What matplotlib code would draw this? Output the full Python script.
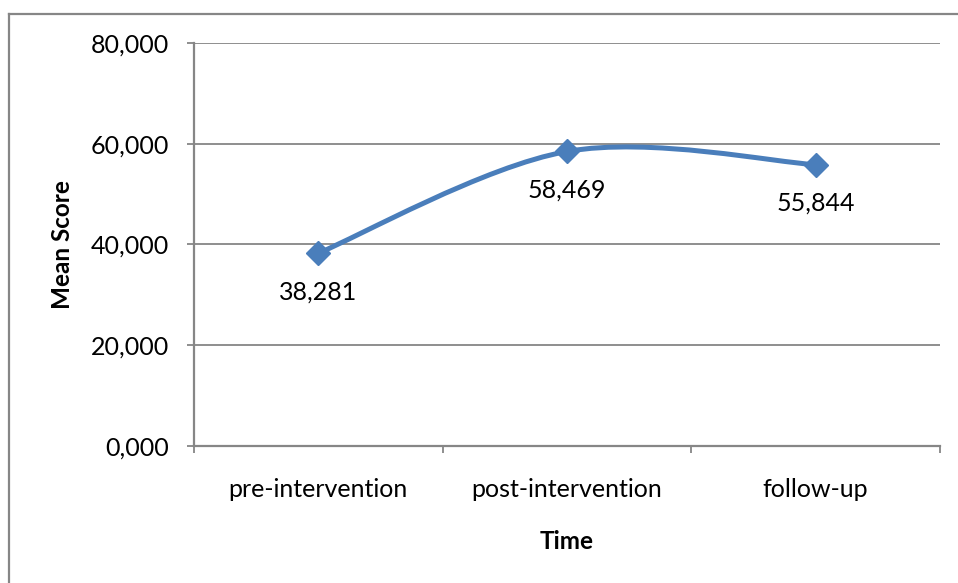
import matplotlib
matplotlib.use("Agg")
import matplotlib.pyplot as plt
from matplotlib.path import Path
from matplotlib.patches import PathPatch
from matplotlib.lines import Line2D
import numpy as np

categories = ["pre-intervention", "post-intervention", "follow-up"]
mean_scores = [38.281, 58.469, 55.844]
y_ticks = [0, 20, 40, 60, 80]
y_tick_labels = ["0,000", "20,000", "40,000", "60,000", "80,000"]
value_labels = ["38,281", "58,469", "55,844"]

LINE_BLUE = "#4A7EBB"
GRID_GRAY = "#868686"
FONT = ["Lato", "DejaVu Sans"]

plt.rcParams["font.family"] = FONT

W, H = 958, 583
fig = plt.figure(figsize=(W / 100, H / 100), dpi=100)

# chart area frame (left and top edges)
fig.add_artist(Line2D([9 / W, 9 / W], [0, 1 - 14 / H], transform=fig.transFigure,
                      color=GRID_GRAY, lw=1.6))
fig.add_artist(Line2D([9 / W, 1], [1 - 14 / H, 1 - 14 / H], transform=fig.transFigure,
                      color=GRID_GRAY, lw=1.6))

left, right, top, bottom = 194, 940, 43, 446
ax = fig.add_axes([left / W, (H - bottom) / H, (right - left) / W, (bottom - top) / H])

x = np.arange(len(categories), dtype=float)
y = np.array(mean_scores)

# smoothed line: cubic Bezier segments with Catmull-Rom style control points
pts = np.column_stack([x, y])
n = len(pts)
verts = [tuple(pts[0])]
codes = [Path.MOVETO]
for i in range(n - 1):
    p_prev = pts[i - 1] if i > 0 else pts[i]
    p0 = pts[i]
    p1 = pts[i + 1]
    p_next = pts[i + 2] if i + 2 < n else pts[i + 1]
    c1 = p0 + (p1 - p_prev) / 6.0
    c2 = p1 - (p_next - p0) / 6.0
    verts += [tuple(c1), tuple(c2), tuple(p1)]
    codes += [Path.CURVE4] * 3
ax.add_patch(PathPatch(Path(verts, codes), facecolor="none", edgecolor=LINE_BLUE,
                       lw=3.6, capstyle="round", joinstyle="round", zorder=3))
ax.plot(x, y, linestyle="none", marker="D", markersize=12.5, color=LINE_BLUE, zorder=4)

for xi, yi, lab in zip(x, y, value_labels):
    ax.annotate(lab, (xi, yi), xytext=(0, -28), textcoords="offset points",
                ha="center", va="center", fontsize=18, color="black")

ax.set_xlim(-0.5, len(categories) - 0.5)
ax.set_ylim(0, 80)
ax.set_yticks(y_ticks)
ax.set_yticklabels(y_tick_labels)
ax.set_xticks(x)
ax.set_xticklabels(categories)
ax.set_xticks(np.arange(-0.5, len(categories), 1.0), minor=True)

ax.yaxis.grid(True, color=GRID_GRAY, lw=1.3)
ax.set_axisbelow(True)
for s in ["top", "right"]:
    ax.spines[s].set_visible(False)
for s in ["left", "bottom"]:
    ax.spines[s].set_color(GRID_GRAY)
    ax.spines[s].set_linewidth(1.6)

ax.tick_params(axis="y", length=5, width=1.3, color=GRID_GRAY, pad=13, labelsize=18)
ax.tick_params(axis="x", which="major", length=0, pad=23, labelsize=18)
ax.tick_params(axis="x", which="minor", length=5, width=1.3, color=GRID_GRAY)

ax.set_xlabel("Time", fontsize=17.5, fontweight="bold", labelpad=21)
ax.set_ylabel("Mean Score", fontsize=17.5, fontweight="bold", labelpad=12)

fig.savefig("out.png", dpi=100)
